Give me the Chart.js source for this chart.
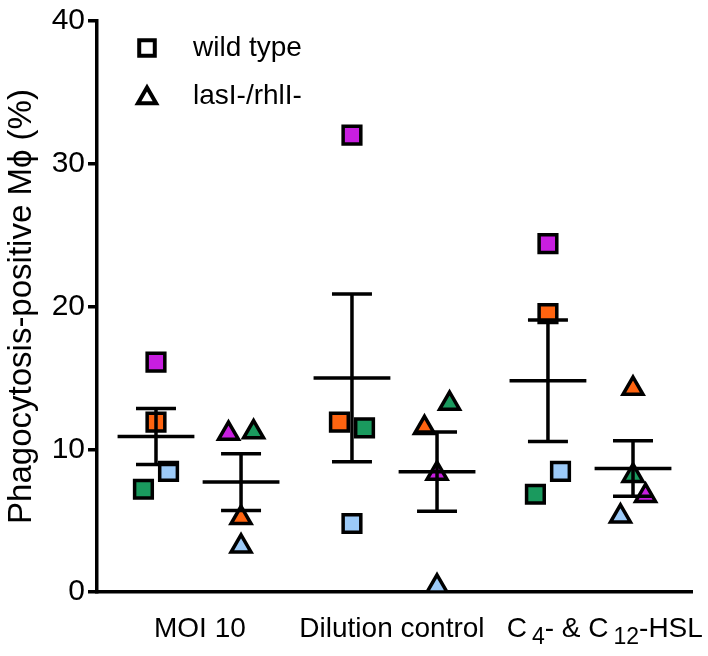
<!DOCTYPE html>
<html>
<head>
<meta charset="utf-8">
<script src="https://cdn.jsdelivr.net/npm/chart.js@4.4.1/dist/chart.umd.min.js"></script>
<style>
  html, body { margin: 0; padding: 0; background: #fff; }
  #wrap { width: 708px; height: 656px; }
</style>
</head>
<body>
<div id="wrap"><canvas id="chart"></canvas></div>
<script>
// ---- data ----
const categories = ['MOI 10', 'Dilution control', 'C₄- & C₁₂-HSL'];
const strains = ['wild type', 'lasI-/rhlI-'];
// per category, one value per experiment (magenta, orange, green, blue)
const wildTypeValues = [
  [16.1, 11.9, 7.2, 8.45],
  [32.0, 11.9, 11.5, 4.8],
  [24.4, 19.5, 6.85, 8.45]
];
const mutantValues = [
  [11.1, 5.2, 11.2, 3.2],
  [8.3, 11.5, 13.2, 0.4],
  [6.75, 14.25, 8.15, 5.3]
];
const wildTypeMean = [10.9, 15.0, 14.8];
const wildTypeSem = [1.96, 5.87, 4.26];
const mutantMean = [7.7, 8.43, 8.65];
const mutantSem = [1.99, 2.78, 1.95];
const yTicks = [0, 10, 20, 30, 40];

// ---- layout / style ----
const expColors = ['#c81ee0', '#ff6410', '#1a9a5e', '#9ccaf8'];
const wtJitter = [[0, 0, -1, 1], [0, -1, 1, 0], [0, 0, -1, 1]];
const mutJitter = [[-1, 0, 1, 0], [0, -1, 1, 0], [1, 0, 0, -1]];
const JIT = 0.064, MUT_SHIFT = 0.434, MEAN_HALF = 0.196, CAP_HALF = 0.102;
const labelPos = [0.224, 1.204, 2.29];
const FONT = 'Liberation Sans, Arial, sans-serif';
const SUBS = '₀₁₂₃₄₅₆₇₈₉';
const hasSub = s => [...s].some(ch => SUBS.includes(ch));

const datasets = [];
expColors.forEach((col, r) => {
  datasets.push({
    label: strains[0],
    data: categories.map((c, g) => ({ x: g + wtJitter[g][r] * JIT, y: wildTypeValues[g][r] })),
    pointStyle: 'rect', pointRadius: 12.5, backgroundColor: col,
    borderColor: '#000', borderWidth: 3.5, order: 2
  });
  datasets.push({
    label: strains[1],
    data: categories.map((c, g) => ({ x: g + MUT_SHIFT + mutJitter[g][r] * JIT, y: mutantValues[g][r] })),
    pointStyle: 'triangle', pointRadius: 11.5, backgroundColor: col,
    borderColor: '#000', borderWidth: 3.5, order: 2
  });
});

// mean +/- SEM bars
const bars = [];
const gap = { x: 0, y: null };
function addBar(c, m, s) {
  bars.push({ x: c - MEAN_HALF, y: m }, { x: c + MEAN_HALF, y: m }, gap);
  bars.push({ x: c - CAP_HALF, y: m + s }, { x: c + CAP_HALF, y: m + s }, gap);
  bars.push({ x: c - CAP_HALF, y: m - s }, { x: c + CAP_HALF, y: m - s }, gap);
  bars.push({ x: c, y: m - s }, { x: c, y: m + s }, gap);
}
categories.forEach((c, g) => {
  addBar(g, wildTypeMean[g], wildTypeSem[g]);
  addBar(g + MUT_SHIFT, mutantMean[g], mutantSem[g]);
});
datasets.push({
  label: 'mean ± SEM', data: bars, showLine: true, spanGaps: false,
  pointRadius: 0, borderColor: '#000', borderWidth: 3.5, borderCapStyle: 'butt', order: 0
});

// legend inside the plot + labels with real subscripts
const extras = {
  id: 'extras',
  afterDraw(chart) {
    const ctx = chart.ctx;
    const left = chart.chartArea.left;
    const styles = ['rect', 'triangle'];
    const radii = [11, 10.5];
    ctx.save();
    strains.forEach((name, i) => {
      const y = 48 + i * 48;
      ctx.fillStyle = '#fff';
      ctx.strokeStyle = '#000';
      ctx.lineWidth = 4;
      Chart.helpers.drawPoint(ctx, { pointStyle: styles[i], radius: radii[i], borderWidth: 4 }, left + 50, y + (i ? 2 : 0));
      ctx.fillStyle = '#000';
      ctx.font = '28px ' + FONT;
      ctx.textBaseline = 'middle';
      ctx.textAlign = 'left';
      ctx.fillText(name, left + 96, y);
    });

    // category labels containing subscripts
    const xs = chart.scales.x;
    const cy = xs.top + 37;
    const subGap = 5;
    categories.forEach((txt, i) => {
      if (!hasSub(txt)) return;
      const runs = [];
      for (const ch of txt) {
        const k = SUBS.indexOf(ch);
        const sub = k >= 0;
        const c = sub ? String(k) : ch;
        const last = runs[runs.length - 1];
        if (last && last.sub === sub) last.t += c; else runs.push({ t: c, sub });
      }
      const fontFor = r => (r.sub ? '23px ' : '28px ') + FONT;
      let total = 0;
      runs.forEach(r => {
        ctx.font = fontFor(r);
        r.w = ctx.measureText(r.t).width + (r.sub ? subGap : 0);
        total += r.w;
      });
      let x = xs.getPixelForValue(labelPos[i]) - total / 2;
      ctx.textBaseline = 'middle';
      runs.forEach(r => {
        ctx.font = fontFor(r);
        ctx.fillText(r.t, x + (r.sub ? subGap : 0), cy + (r.sub ? 9 : 0));
        x += r.w;
      });
    });
    ctx.restore();
  }
};

new Chart(document.getElementById('chart'), {
  type: 'scatter',
  data: { datasets },
  options: {
    responsive: true,
    maintainAspectRatio: false,
    animation: false,
    layout: { padding: { top: 19, right: 16, bottom: 0, left: 0 } },
    plugins: { legend: { display: false }, tooltip: { enabled: false } },
    scales: {
      x: {
        type: 'linear', min: -0.301, max: 2.735,
        afterBuildTicks: s => { s.ticks = labelPos.map(v => ({ value: v })); },
        afterFit: s => { s.height = 64; },
        ticks: {
          callback: (v, i) => (hasSub(categories[i]) ? '' : categories[i]),
          autoSkip: false, maxRotation: 0, padding: 12,
          color: '#000', font: { family: FONT, size: 28 }
        },
        grid: { display: false },
        border: { color: '#000', width: 3.5 }
      },
      y: {
        min: 0, max: 40,
        afterBuildTicks: s => { s.ticks = yTicks.map(v => ({ value: v })); },
        afterFit: s => { s.width = 97; },
        ticks: { color: '#000', padding: 3, font: { family: FONT, size: 30 } },
        grid: { drawOnChartArea: false, tickLength: 9, lineWidth: 3.5, color: '#000' },
        border: { color: '#000', width: 3.5 },
        title: {
          display: true, text: 'Phagocytosis-positive Mϕ (%)',
          color: '#000', font: { family: FONT, size: 33 }, padding: { top: 2, bottom: 0 }
        }
      }
    }
  },
  plugins: [extras]
});
</script>
</body>
</html>
